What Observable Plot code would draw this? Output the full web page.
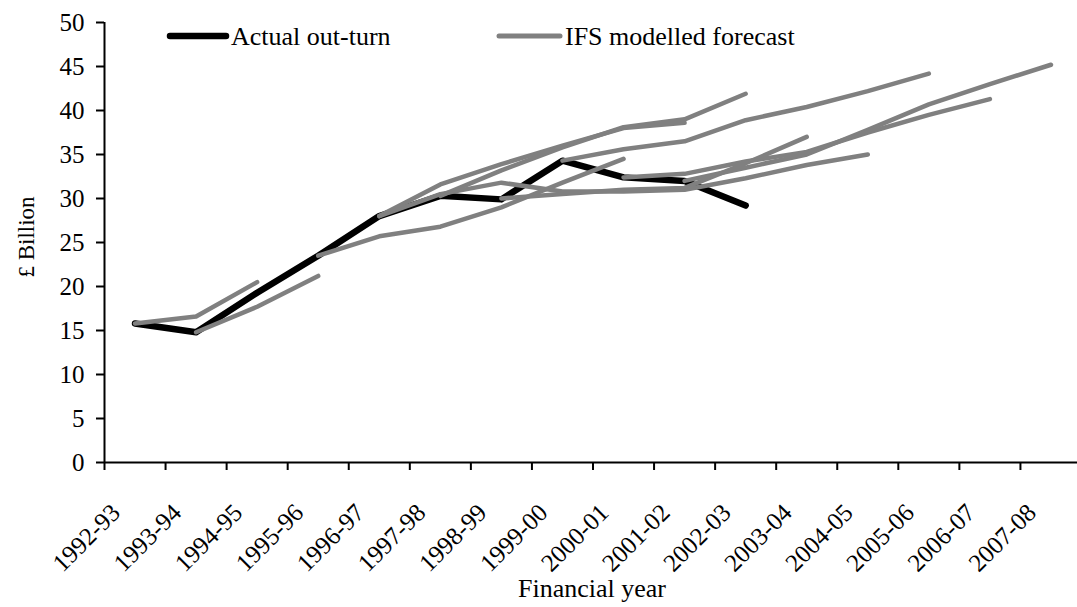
<!DOCTYPE html>
<html><head><meta charset="utf-8">
<script src="https://cdn.jsdelivr.net/npm/d3@7"></script>
<script src="https://cdn.jsdelivr.net/npm/@observablehq/plot@0.6"></script>
<style>
body{margin:0;background:#fff;}
#wrap{position:relative;width:1077px;height:607px;font-family:"Liberation Serif","Times New Roman",serif;color:#000;overflow:hidden;}
#wrap svg text{font-family:"Liberation Serif","Times New Roman",serif;}
.t{position:absolute;white-space:nowrap;font-size:26px;line-height:26px;font-family:"Liberation Serif","Times New Roman",serif;}
</style></head><body><div id="wrap"></div>
<script>
const years = ["1992-93","1993-94","1994-95","1995-96","1996-97","1997-98","1998-99","1999-00","2000-01","2001-02","2002-03","2003-04","2004-05","2005-06","2006-07","2007-08"];
const actual = [15.8, 14.8, 19.3, 23.5, 28.0, 30.3, 29.9, 34.3, 32.4, 32.0, 29.2];
const forecastStarts = ["1992-93","1993-94","1995-96","1996-97","1996-97","1997-98","1998-99","1999-00","2000-01","2001-02"];
const forecast1 = [15.8, 16.6, 20.5];
const forecast2 = [14.8, 17.7, 21.2];
const forecast3 = [23.5, 25.7, 26.8, 29.0, 31.8, 34.5];
const forecast4 = [28.0, 31.6, 33.9, 36.0, 38.0, 38.6];
const forecast5 = [28.0, 30.5, 31.8, 30.8, 30.8, 31.0, 32.3, 33.8, 35.0];
const forecast6 = [30.3, 33.2, 35.8, 38.1, 39.0, 41.9];
const forecast7 = [30.0, 30.5, 31.0, 31.2, 34.0, 37.0];
const forecast8 = [34.3, 35.6, 36.5, 38.9, 40.4, 42.2, 44.2];
const forecast9 = [32.4, 32.8, 34.2, 35.3, 37.5, 39.5, 41.3];
const forecast10 = [32.0, 33.5, 35.0, 37.8, 40.7, 43.0, 45.2];
const yTicks = [0,5,10,15,20,25,30,35,40,45,50];
const legendLabels = ["Actual out-turn","IFS modelled forecast"];
const axisTitles = {x: "Financial year", y: "£ Billion"};

const forecasts = [forecast1,forecast2,forecast3,forecast4,forecast5,forecast6,forecast7,forecast8,forecast9,forecast10];
const actualRows = actual.map((v,i)=>({x:i+0.5, y:v}));
const fcRows = [];
forecasts.forEach((arr,k)=>{
  const s = years.indexOf(forecastStarts[k]);
  arr.forEach((v,j)=>fcRows.push({id:k, x:s+j+0.5, y:v}));
});

const font = '"Liberation Serif","Times New Roman",serif';
const chart = Plot.plot({
  width: 1077, height: 607,
  marginLeft: 104, marginRight: 0, marginTop: 22, marginBottom: 145,
  style: {fontFamily: font, fontSize: "25px", color: "#000", background: "#fff", overflow: "visible"},
  x: {domain: [0, years.length], range: [104, 1081]},
  y: {domain: [0, 50], range: [462, 22]},
  marks: [
    Plot.ruleX([0], {stroke: "#000", strokeWidth: 2}),
    Plot.ruleY([0], {stroke: "#000", strokeWidth: 2}),
    Plot.axisY({ticks: yTicks, tickSize: 8, tickPadding: 12, fontSize: 25, label: null, strokeWidth: 2}),
    Plot.axisX({ticks: d3.range(0, years.length + 1), tickSize: 8, tickFormat: () => "", label: null, strokeWidth: 2}),
    Plot.axisX({ticks: years.map((_,i)=>i+0.5), tickSize: 0, tickPadding: 46, tickRotate: -45, dx: -19,
      tickFormat: v => years[Math.floor(v)], fontSize: 25, label: null}),
    Plot.line(actualRows, {x: "x", y: "y", stroke: "#000", strokeWidth: 6.5, strokeLinecap: "round", strokeLinejoin: "round"}),
    Plot.line(fcRows, {x: "x", y: "y", z: "id", stroke: "#808080", strokeWidth: 4.5, strokeLinecap: "round", strokeLinejoin: "round"})
  ]
});
const wrap = document.getElementById("wrap");
wrap.appendChild(chart);

const leg = document.createElement("div");
leg.style.cssText = "position:absolute;left:0;top:0;width:1077px;height:60px;";
leg.innerHTML = `
<svg width="1077" height="60" style="position:absolute;left:0;top:0">
  <line x1="170" y1="36" x2="226" y2="36" stroke="#000" stroke-width="6.5" stroke-linecap="round"/>
  <line x1="499" y1="36" x2="560" y2="36" stroke="#808080" stroke-width="5" stroke-linecap="round"/>
</svg>
<div class="t" style="left:231px;top:24px">${legendLabels[0]}</div>
<div class="t" style="left:565px;top:24px">${legendLabels[1]}</div>`;
wrap.appendChild(leg);

const xt = document.createElement("div");
xt.className = "t";
xt.style.cssText += "left:592px;top:576px;transform:translateX(-50%);";
xt.textContent = axisTitles.x;
wrap.appendChild(xt);

const yt = document.createElement("div");
yt.className = "t";
yt.style.cssText += "left:26px;top:237px;font-size:23px;line-height:23px;transform:translate(-50%,-50%) rotate(-90deg);";
yt.textContent = axisTitles.y;
wrap.appendChild(yt);
</script>
</body></html>
